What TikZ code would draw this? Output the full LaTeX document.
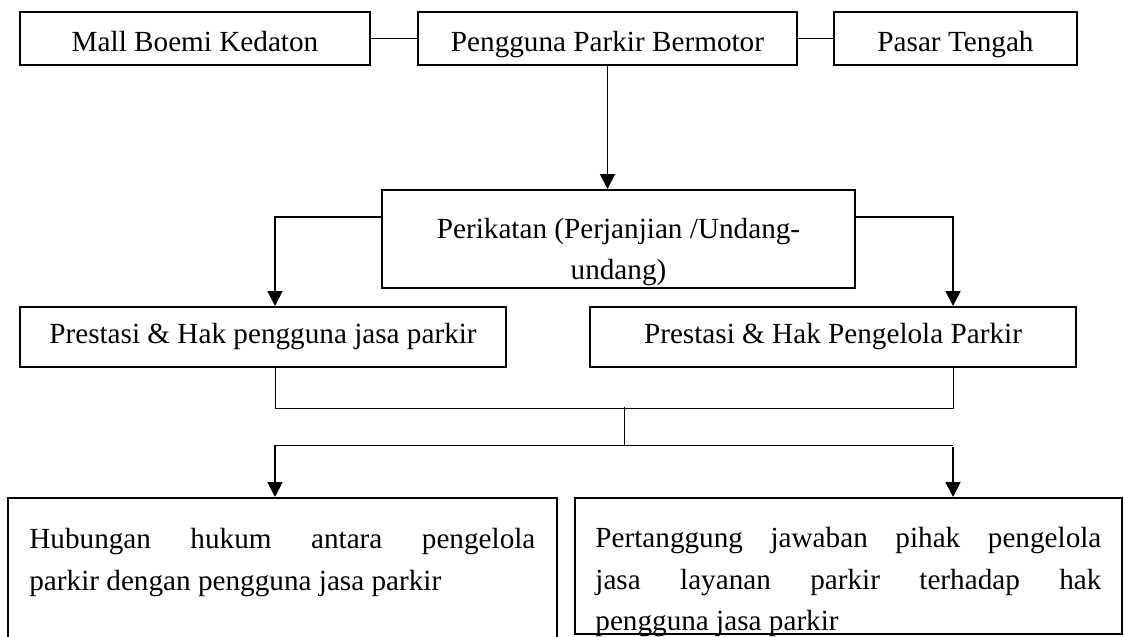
\documentclass[tikz,border=0pt]{standalone}
\usepackage{fontspec}
\setmainfont{Liberation Serif}
\usetikzlibrary{arrows.meta}
\hyphenpenalty=10000
\exhyphenpenalty=10000

\begin{document}
\begin{tikzpicture}[x=0.5pt,y=-0.5pt,
  box/.style={rectangle, draw=black, line width=1pt, inner sep=0pt, font=\fontsize{14.6}{21}\selectfont},
  topbox/.style={box, minimum height=26.5pt, text height=13pt, text depth=0pt},
  arr/.style={-{Triangle[length=7.5pt,width=7.5pt]}, line width=0.9pt},
  link/.style={line width=0.5pt},
  para/.style={align=justify, text width=253pt, inner sep=0pt, font=\fontsize{14.6}{20.75}\selectfont}]
\useasboundingbox (0,0) rectangle (1125,637);

\node[topbox, minimum width=175pt](mall) at (195,38.5) {Mall Boemi Kedaton};
\node[topbox, minimum width=189.5pt](pengguna) at (607.5,38.5) {Pengguna Parkir Bermotor};
\node[topbox, minimum width=121.5pt](pasar) at (955.5,38.5) {Pasar Tengah};
\draw[link] (mall)--(pengguna);
\draw[link] (pengguna)--(pasar);

\node[box, minimum width=236.5pt, minimum height=49pt](perikatan) at (618.5,239) {};
\node[inner sep=0pt, align=center, anchor=north, font=\fontsize{14.6}{20.5}\selectfont](perikatantext) at ([yshift=10.5pt]perikatan.center) {Perikatan (Perjanjian /Undang-\\undang)};
\draw[arr] (pengguna.south)--(pengguna.south |- perikatan.north);

\node[box, minimum width=243pt, minimum height=30pt](leftprest) at (263,337) {Prestasi \& Hak pengguna jasa parkir};
\node[box, minimum width=243pt, minimum height=30pt](rightprest) at (833,337) {Prestasi \& Hak Pengelola Parkir};
\draw[arr] ([yshift=11pt]perikatan.west) -| ([xshift=6pt]leftprest.north);
\draw[arr] ([yshift=11pt]perikatan.east) -| ([xshift=60pt]rightprest.north);

\node[box, minimum width=274.5pt, minimum height=71pt](hubungan) at (282.5,569) {};
\node[box, minimum width=273.5pt, minimum height=68pt](tanggung) at (848.5,566) {};
\node[para, anchor=north west](hubtext) at ([xshift=11pt,yshift=-15.5pt]hubungan.north west) {Hubungan hukum antara pengelola\linebreak parkir dengan pengguna jasa parkir};
\node[para, anchor=north west](tgtext) at ([xshift=10.5pt,yshift=-15pt]tanggung.north west) {Pertanggung jawaban pihak pengelola\linebreak jasa layanan parkir terhadap hak\linebreak pengguna jasa parkir};

\draw[link] ([xshift=6pt]leftprest.south) -- ++(0,40) -| ([xshift=60pt]rightprest.south);
\coordinate (join) at (624,407);
\coordinate (split) at (624,445);
\draw[link] (join)--(split);
\coordinate (hl) at (275,445);
\coordinate (hr) at (953,445);
\draw[link] (hl)--(hr);
\draw[arr] (hl)--(hl |- hubungan.north);
\draw[arr] ([yshift=-1pt]hr)--(hr |- tanggung.north);
\end{tikzpicture}
\end{document}
